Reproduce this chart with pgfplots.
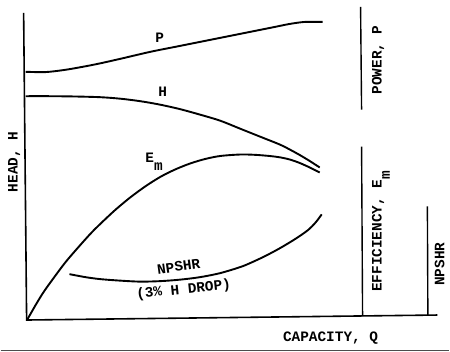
\documentclass[border=0pt]{standalone}
\usepackage{pgfplots}
\pgfplotsset{compat=1.18}
\usepackage{fontspec}
\newfontfamily\tw{Liberation Mono}
\newcommand\lab{\fontsize{14.5}{16}\selectfont\tw\bfseries}
\newcommand\Em{E\raisebox{-8.5bp}{m}}
\tikzset{lbl/.style={font=\lab, inner sep=0pt}}
\begin{document}
\begin{tikzpicture}
\begin{axis}[
  width=450bp, height=353bp, scale only axis,
  xmin=0, xmax=450, ymin=0, ymax=353, y dir=reverse,
  hide axis, clip=false,
]
% bounding corners
\addplot[draw=none] coordinates {(0,0) (450,353)};
% axes frame
\addplot[black, line width=1.6bp] coordinates {(23,13) (26,321) (438,316)};
\addplot[black, line width=1.4bp] coordinates {(361,7) (362,110)};
\addplot[black, line width=1.4bp] coordinates {(362,147) (363,317)};
\addplot[black, line width=1.4bp] coordinates {(428,207) (428.5,316)};
% scan border line
\addplot[black!70, line width=1.4bp] coordinates {(0,351.7) (450,351.7)};
% Power P
\addplot[black, line width=1.9bp, smooth] coordinates {
(25,72) (45,72.3) (65,70) (85,66.5) (100,63.5) (120,59) (150,52) (175,47) (200,42) (225,37) (250,32) (275,27) (290,24) (305,22) (323,22)};
% Head H
\addplot[black, line width=1.9bp, smooth] coordinates {
(25,96.5) (50,96.5) (75,96.8) (100,97.5) (120,99) (140,101.5) (160,105) (180,109.5) (200,115) (220,121) (240,129) (260,137) (280,145) (290,150) (300,155.5) (310,161.5) (320,168)};
% Efficiency Em
\addplot[black, line width=1.9bp, smooth] coordinates {
(27,320) (35,306) (43,293) (53,279) (65,263) (77,249) (90,234.5) (100,224.5) (115,210.5) (130,198) (145,187) (160,177.5) (175,170) (190,164) (205,159.5) (220,156.5) (240,155) (255,155.3) (270,156.5) (280,157.8) (290,160) (300,163.5) (310,168) (320,173)};
% NPSHR
\addplot[black, line width=1.9bp, smooth] coordinates {
(69,275) (85,278) (100,280) (120,281.5) (140,282.5) (160,282) (180,280.5) (200,278) (220,274) (240,268) (250,264) (265,257) (280,249) (295,240) (308,231) (316,223) (322,215)};
% labels
\node[lbl, anchor=base west] at (axis cs:155,43) {P};
\node[lbl, anchor=base west] at (axis cs:158,97) {H};
\node[lbl, anchor=base west] at (axis cs:145,163) {\Em};
\node[lbl, rotate=8] at (axis cs:178.5,267.5) {NPSHR};
\node[lbl, rotate=6] at (axis cs:183.5,291) {(3\% H DROP)};
\node[lbl, anchor=base west, rotate=90] at (axis cs:17,193) {HEAD, H};
\node[lbl, anchor=base west, rotate=90] at (axis cs:382,95) {POWER, P};
\node[lbl, anchor=base west, rotate=90] at (axis cs:382,293) {EFFICIENCY, \Em};
\node[lbl, anchor=base west, rotate=90] at (axis cs:445,287) {NPSHR};
\node[lbl, anchor=base west] at (axis cs:283,343) {CAPACITY, Q};
\end{axis}
\end{tikzpicture}
\end{document}
